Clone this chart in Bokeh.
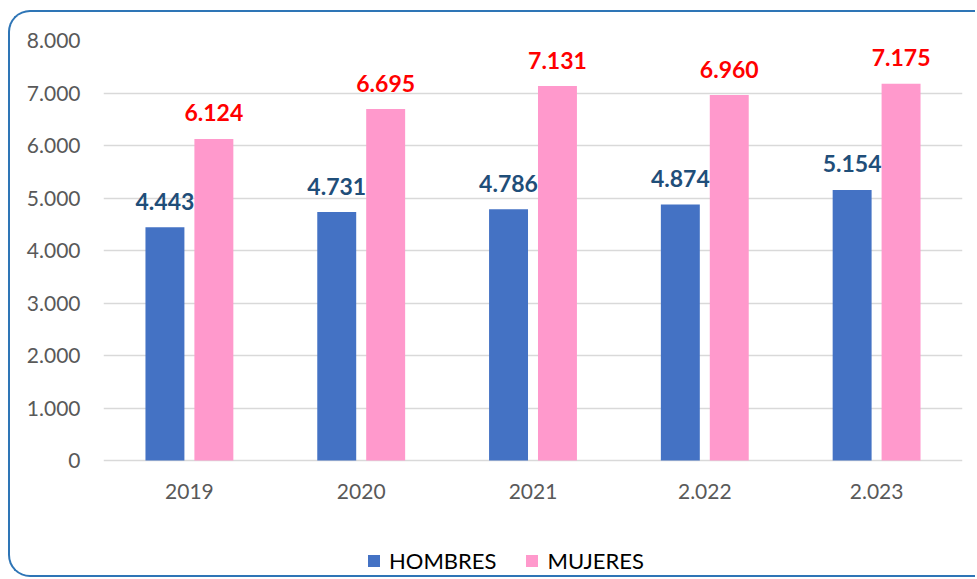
from bokeh.plotting import figure
from bokeh.models import (FactorRange, ColumnDataSource, FixedTicker, Legend,
                          LegendItem, Range1d)
from bokeh.transform import dodge
from bokeh.core.properties import value
from bokeh.embed import file_html
from bokeh.resources import INLINE

# ---- data ----
years = ["2019", "2020", "2021", "2.022", "2.023"]
hombres = [4443, 4731, 4786, 4874, 5154]
mujeres = [6124, 6695, 7131, 6960, 7175]
y_ticks = [0, 1000, 2000, 3000, 4000, 5000, 6000, 7000, 8000]
y_tick_labels = ["0", "1.000", "2.000", "3.000", "4.000", "5.000", "6.000", "7.000", "8.000"]


def fmt(v):
    return f"{v:,}".replace(",", ".")


src = ColumnDataSource(dict(
    years=years,
    hombres=hombres,
    mujeres=mujeres,
    h_lab=[fmt(v) for v in hombres],
    m_lab=[fmt(v) for v in mujeres],
    base=[0] * len(years),
))

FONT = "Lato"
BLUE = "#4472C4"
PINK = "#FF99CC"
TICK_COLOR = "#595959"

# layout (screen px): plot area 420 px tall for 0..8000, 119 px of room below it
Y_MAX = 8000
Y_MIN = -Y_MAX * 119 / 420

p = figure(x_range=FactorRange(*years, range_padding=0),
           y_range=Range1d(Y_MIN, Y_MAX),
           width=967, height=567,
           output_backend="svg", toolbar_location=None,
           min_border_left=93, min_border_right=15,
           min_border_top=28, min_border_bottom=0)

p.styles = {"margin-left": "8px", "margin-top": "10px",
            "border": "2px solid #2E75B6", "border-right": "none",
            "border-radius": "22px 0 0 22px"}

p.outline_line_color = None
p.background_fill_color = None
p.border_fill_color = None
p.xgrid.grid_line_color = None
p.ygrid.grid_line_color = "#D9D9D9"
p.ygrid.grid_line_width = 1.5

p.yaxis.ticker = FixedTicker(ticks=y_ticks)
p.yaxis.major_label_overrides = {t: l for t, l in zip(y_ticks, y_tick_labels)}
p.yaxis.axis_line_color = None
p.yaxis.major_tick_line_color = None
p.yaxis.minor_tick_line_color = None
p.yaxis.major_label_standoff = 17
p.yaxis.major_label_text_font = FONT
p.yaxis.major_label_text_font_size = "21px"
p.yaxis.major_label_text_color = TICK_COLOR

# category axis labels drawn under the zero line
p.xaxis.visible = False
p.text(x="years", y="base", text="years", source=src, y_offset=31,
       text_align="center", text_baseline="middle",
       text_font=value(FONT), text_font_size="21px", text_color=TICK_COLOR)

off = 0.1424
bw = 0.2267
r1 = p.vbar(x=dodge("years", -off, range=p.x_range), top="hombres", width=bw,
            source=src, fill_color=BLUE, line_color=None)
r2 = p.vbar(x=dodge("years", off, range=p.x_range), top="mujeres", width=bw,
            source=src, fill_color=PINK, line_color=None)

p.text(x=dodge("years", -off, range=p.x_range), y="hombres", text="h_lab",
       source=src, y_offset=-26, text_align="center", text_baseline="middle",
       text_font=value(FONT), text_font_style="bold", text_font_size="23px",
       text_color="#1F4E79")
p.text(x=dodge("years", off, range=p.x_range), y="mujeres", text="m_lab",
       source=src, y_offset=-26, text_align="center", text_baseline="middle",
       text_font=value(FONT), text_font_style="bold", text_font_size="23px",
       text_color="#FF0000")

legend = Legend(items=[LegendItem(label="HOMBRES", renderers=[r1]),
                       LegendItem(label="MUJERES", renderers=[r2])],
                orientation="horizontal", location=(263, 5),
                label_text_font=FONT, label_text_font_size="22px",
                label_text_color="black",
                glyph_width=15, glyph_height=15, label_standoff=8,
                spacing=28, padding=0, margin=0,
                border_line_color=None, background_fill_alpha=0)
p.add_layout(legend, "center")

open("out.html", "w").write(file_html(p, INLINE))
